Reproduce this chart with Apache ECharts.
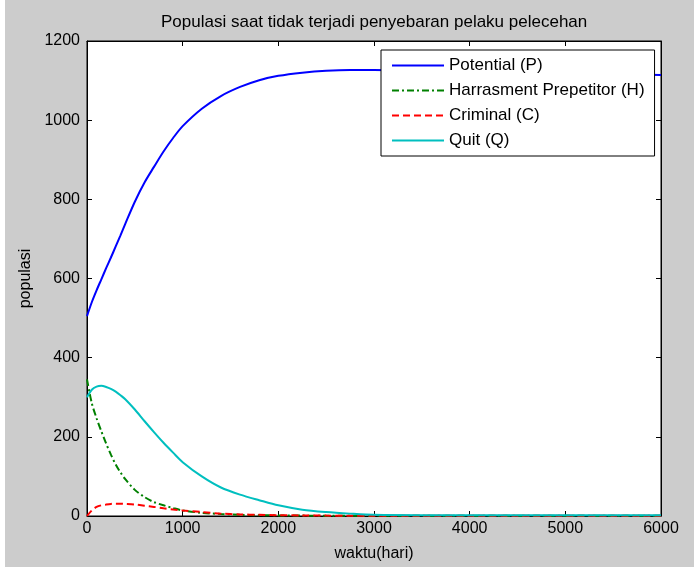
<!DOCTYPE html>
<html>
<head>
<meta charset="utf-8">
<script src="https://cdn.jsdelivr.net/npm/echarts@6/dist/echarts.min.js"></script>
<style>
html,body{margin:0;padding:0;background:#fff;}
#c{width:694px;height:567px;}
</style>
</head>
<body>
<div id="c"></div>
<script>
// time (hari)
var time = [0, 50, 100, 150, 200, 250, 300, 350, 400, 500, 600, 700, 800, 900, 1000, 1200, 1400, 1600, 1800, 2000, 2250, 2500, 2750, 3000, 3500, 4000, 4500, 5000, 5500, 6000];
// Potential (P)
var potential = [505, 540, 570, 598, 626, 653, 681, 709, 738, 794, 842, 882, 921, 955, 985, 1029, 1061, 1084, 1101, 1112, 1120, 1125, 1127, 1127, 1125, 1122, 1120, 1118, 1116, 1114];
// Harrasment Prepetitor (H)
var harrasment = [345, 285, 247, 214, 183, 155, 130, 110, 93, 66, 48, 35, 27, 20, 14, 8, 5, 3, 2, 1.5, 1, 0.8, 0.6, 0.5, 0.5, 0.5, 0.5, 0.5, 0.5, 0.5];
// Criminal (C)
var criminal = [0, 14, 23, 27, 29, 30.5, 31, 31, 30.5, 29, 26, 23, 19.5, 16.5, 14, 10, 6, 4, 3, 2, 1.5, 1, 0.8, 0.6, 0.5, 0.5, 0.5, 0.5, 0.5, 0.5];
// Quit (Q)
var quit = [300, 319, 327, 329, 326, 321, 314, 305, 295, 269, 240, 212, 185, 160, 136, 100, 72, 54, 40, 27, 16, 10, 6, 3, 2, 2, 2, 2, 2, 2];

var xTicks = [0, 1000, 2000, 3000, 4000, 5000, 6000];
var yTicks = [0, 200, 400, 600, 800, 1000, 1200];

function pairs(v) { return time.map(function (t, i) { return [t, v[i]]; }); }

var FONT = 'Liberation Sans, Arial, sans-serif';
var chart = echarts.init(document.getElementById('c'), null, {renderer: 'canvas'});

var tickStyle = {show: true, inside: true, length: 5, lineStyle: {color: '#000', width: 1}};
var axLine = {show: true, onZero: false, lineStyle: {color: '#000', width: 1}};

chart.setOption({
  animation: false,
  backgroundColor: '#cccccc',
  title: {
    text: 'Populasi saat tidak terjadi penyebaran pelaku pelecehan',
    left: 156, top: 9,
    textStyle: {fontFamily: FONT, fontSize: 17, fontWeight: 'normal', color: '#000'}
  },
  graphic: [
    {type: 'rect', left: 0, top: 0, shape: {width: 5, height: 567}, style: {fill: '#ffffff'}, z: 100}
  ],
  grid: {
    left: 87, right: 33, top: 41, bottom: 50,
    show: true, backgroundColor: '#ffffff', borderColor: '#000', borderWidth: 1
  },
  legend: {
    orient: 'vertical',
    left: 381, top: 50,
    padding: [7, 10, 7, 10],
    itemWidth: 52, itemHeight: 14, itemGap: 8,
    backgroundColor: '#ffffff', borderColor: '#000', borderWidth: 1,
    itemStyle: {opacity: 0},
    textStyle: {fontFamily: FONT, fontSize: 17, color: '#000'},
    data: ['Potential (P)', 'Harrasment Prepetitor (H)', 'Criminal (C)', 'Quit (Q)']
  },
  xAxis: [{
    type: 'value', min: 0, max: 6000, interval: 1000, position: 'bottom',
    name: 'waktu(hari)', nameLocation: 'middle', nameGap: 30,
    nameTextStyle: {fontFamily: FONT, fontSize: 16, color: '#000'},
    axisLine: axLine, axisTick: tickStyle, splitLine: {show: false},
    axisLabel: {fontFamily: FONT, fontSize: 16, color: '#000', margin: 5,
      formatter: function (v) { return xTicks.indexOf(v) >= 0 ? String(v) : ''; }}
  }, {
    type: 'value', min: 0, max: 6000, interval: 1000, position: 'top',
    axisLine: axLine, axisTick: tickStyle, splitLine: {show: false}, axisLabel: {show: false}
  }],
  yAxis: [{
    type: 'value', min: 0, max: 1200, interval: 200, position: 'left',
    name: 'populasi', nameLocation: 'middle', nameGap: 46, nameRotate: 90,
    nameTextStyle: {fontFamily: FONT, fontSize: 16, color: '#000'},
    axisLine: axLine, axisTick: tickStyle, splitLine: {show: false},
    axisLabel: {fontFamily: FONT, fontSize: 16, color: '#000', margin: 7,
      formatter: function (v) { return yTicks.indexOf(v) >= 0 ? String(v) : ''; }}
  }, {
    type: 'value', min: 0, max: 1200, interval: 200, position: 'right',
    axisLine: axLine, axisTick: tickStyle, splitLine: {show: false}, axisLabel: {show: false}
  }],
  series: [
    {name: 'Potential (P)', type: 'line', data: pairs(potential), symbol: 'none', smooth: 0.3,
      lineStyle: {color: '#0000ff', width: 2}, itemStyle: {color: '#0000ff'}},
    {name: 'Harrasment Prepetitor (H)', type: 'line', data: pairs(harrasment), symbol: 'none', smooth: 0.3,
      lineStyle: {color: '#008000', width: 2, type: [7, 3, 2, 3]}, itemStyle: {color: '#008000'}},
    {name: 'Criminal (C)', type: 'line', data: pairs(criminal), symbol: 'none', smooth: 0.3,
      lineStyle: {color: '#ff0000', width: 2, type: [7, 4]}, itemStyle: {color: '#ff0000'}},
    {name: 'Quit (Q)', type: 'line', data: pairs(quit), symbol: 'none', smooth: 0.3,
      lineStyle: {color: '#00bfbf', width: 2}, itemStyle: {color: '#00bfbf'}}
  ]
});
</script>
</body>
</html>
